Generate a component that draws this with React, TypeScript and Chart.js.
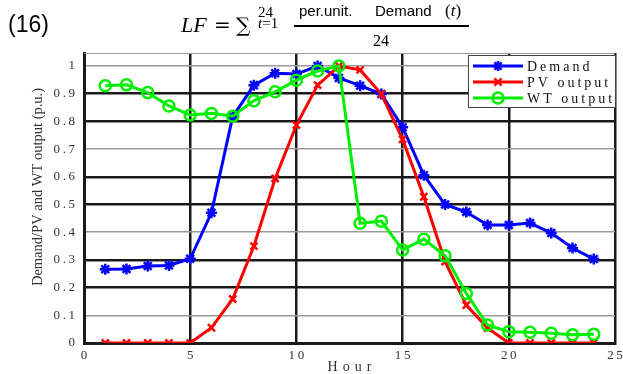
import React, { useEffect, useRef } from "react";
import { Chart, registerables } from "chart.js";

Chart.register(...registerables);

const hours = [1, 2, 3, 4, 5, 6, 7, 8, 9, 10, 11, 12, 13, 14, 15, 16, 17, 18, 19, 20, 21, 22, 23, 24];
const demand = [0.266, 0.267, 0.278, 0.28, 0.304, 0.47, 0.817, 0.931, 0.974, 0.971, 1.0, 0.957, 0.929, 0.899, 0.779, 0.606, 0.5, 0.473, 0.426, 0.426, 0.433, 0.397, 0.343, 0.303];
const pvOutput = [0, 0, 0, 0, 0, 0.055, 0.159, 0.35, 0.594, 0.787, 0.931, 1.0, 0.986, 0.899, 0.735, 0.528, 0.294, 0.137, 0.054, 0, 0, 0, 0, 0];
const wtOutput = [0.929, 0.932, 0.904, 0.856, 0.823, 0.829, 0.819, 0.875, 0.907, 0.949, 0.982, 1.0, 0.432, 0.44, 0.336, 0.375, 0.315, 0.179, 0.065, 0.041, 0.039, 0.035, 0.03, 0.032];

const xTicks = [0, 5, 10, 15, 20, 25];
const yTicks = [0, 0.1, 0.2, 0.3, 0.4, 0.5, 0.6, 0.7, 0.8, 0.9, 1];
const seriesNames = ["Demand", "PV output", "WT output"];
const xTitle = "Hour";
const yTitle = "Demand/PV and WT output (p.u.)";

const BLUE = "#0000ff";
const RED = "#ff0000";
const GREEN = "#00ee00";
const SERIF = '"Liberation Serif", "Times New Roman", serif';
const MATH = '"DejaVu Serif", serif';

const spaced = (s: string) => s.split("").join("\u2009");
const fmtY = (v: number) => (v === 0 ? "0" : v === 1 ? "1" : "0" + "." + String(Math.round(v * 10)));

function drawMarker(ctx: CanvasRenderingContext2D, kind: string, x: number, y: number, color: string) {
  ctx.save();
  ctx.strokeStyle = color;
  ctx.lineWidth = 2.5;
  ctx.beginPath();
  const r = 5;
  if (kind === "star") {
    ctx.moveTo(x - r, y); ctx.lineTo(x + r, y);
    ctx.moveTo(x, y - r); ctx.lineTo(x, y + r);
    const d = r * 0.707;
    ctx.moveTo(x - d, y - d); ctx.lineTo(x + d, y + d);
    ctx.moveTo(x - d, y + d); ctx.lineTo(x + d, y - d);
  } else if (kind === "crossRot") {
    const d = r * 0.707;
    ctx.moveTo(x - d, y - d); ctx.lineTo(x + d, y + d);
    ctx.moveTo(x - d, y + d); ctx.lineTo(x + d, y - d);
  } else {
    ctx.arc(x, y, 5.5, 0, Math.PI * 2);
  }
  ctx.stroke();
  ctx.restore();
}

const decorPlugin = {
  id: "decor",
  afterDraw(chart: any) {
    const { ctx, chartArea } = chart;
    ctx.save();
    // top border
    ctx.strokeStyle = "#9a9a9a";
    ctx.lineWidth = 1;
    ctx.beginPath();
    ctx.moveTo(chartArea.left, chartArea.top + 0.5);
    ctx.lineTo(chartArea.right, chartArea.top + 0.5);
    ctx.stroke();

    // y title
    ctx.save();
    ctx.translate(38, 187);
    ctx.rotate(-Math.PI / 2);
    ctx.font = "14.5px " + SERIF;
    ctx.fillStyle = "#333";
    ctx.textAlign = "center";
    ctx.textBaseline = "middle";
    ctx.fillText(yTitle, 0, 0);
    ctx.restore();

    // x title
    ctx.save();
    ctx.font = "14px " + SERIF;
    ctx.fillStyle = "#333";
    (ctx as any).letterSpacing = "5px";
    ctx.textAlign = "left";
    ctx.textBaseline = "middle";
    const w = ctx.measureText(xTitle).width - 5;
    ctx.fillText(xTitle, (chartArea.left + chartArea.right) / 2 - w / 2, 367);
    ctx.restore();

    // legend
    const bx = 468, by = 55, bw = 147, bh = 52;
    ctx.fillStyle = "#ffffff";
    ctx.fillRect(bx, by, bw, bh);
    ctx.strokeStyle = "#444";
    ctx.lineWidth = 1;
    ctx.strokeRect(bx + 0.5, by + 0.5, bw, bh);
    const items = [
      { name: seriesNames[0], color: BLUE, kind: "star" },
      { name: seriesNames[1], color: RED, kind: "crossRot" },
      { name: seriesNames[2], color: GREEN, kind: "circle" },
    ];
    items.forEach((it, i) => {
      const y = 66 + i * 16;
      ctx.strokeStyle = it.color;
      ctx.lineWidth = 3;
      ctx.beginPath();
      ctx.moveTo(473, y);
      ctx.lineTo(523, y);
      ctx.stroke();
      drawMarker(ctx, it.kind, 498, y, it.color);
      ctx.save();
      ctx.font = "14px " + SERIF;
      (ctx as any).letterSpacing = "3px";
      ctx.fillStyle = "#111";
      ctx.textAlign = "left";
      ctx.textBaseline = "middle";
      ctx.fillText(it.name, 527, y + 1);
      ctx.restore();
    });
    ctx.restore();
  },
};

function ChartCanvas() {
  const ref = useRef<HTMLCanvasElement | null>(null);
  useEffect(() => {
    if (!ref.current) return;
    const pts = (arr: number[]) => hours.map((h, i) => ({ x: h, y: arr[i] }));
    const chart = new Chart(ref.current, {
      type: "line",
      data: {
        datasets: [
          {
            label: seriesNames[0],
            data: pts(demand),
            borderColor: BLUE,
            backgroundColor: BLUE,
            borderWidth: 3,
            pointStyle: "star",
            pointRadius: 5.5,
            pointBorderWidth: 2.5,
            pointBorderColor: BLUE,
            pointBackgroundColor: BLUE,
            order: 3,
            tension: 0,
          },
          {
            label: seriesNames[1],
            data: pts(pvOutput),
            borderColor: RED,
            backgroundColor: RED,
            borderWidth: 3,
            pointStyle: "crossRot",
            pointRadius: 5,
            pointBorderWidth: 2.5,
            pointBorderColor: RED,
            order: 2,
            tension: 0,
          },
          {
            label: seriesNames[2],
            data: pts(wtOutput),
            borderColor: GREEN,
            backgroundColor: "rgba(0,0,0,0)",
            borderWidth: 3,
            pointStyle: "circle",
            pointRadius: 5.5,
            pointBorderWidth: 2.5,
            pointBorderColor: GREEN,
            pointBackgroundColor: "rgba(0,0,0,0)",
            order: 1,
            tension: 0,
          },
        ],
      },
      options: {
        animation: false,
        responsive: false,
        maintainAspectRatio: false,
        layout: { padding: { top: 53, right: 4, left: 0, bottom: 0 } },
        plugins: { legend: { display: false }, tooltip: { enabled: false } },
        scales: {
          x: {
            type: "linear",
            min: 0,
            max: 25,
            afterBuildTicks: (s: any) => {
              s.ticks = xTicks.map((v) => ({ value: v }));
            },
            afterFit: (s: any) => {
              s.height = 31;
              s.paddingLeft = 0;
              s.paddingRight = 0;
            },
            ticks: {
              autoSkip: false,
              maxRotation: 0,
              padding: 5,
              color: "#333",
              font: { family: SERIF, size: 13 },
              callback: (v: any) => spaced(String(v)),
            },
            grid: { color: "#1a1a1a", lineWidth: 2.5, drawTicks: false },
            border: { color: "#1a1a1a", width: 3 },
          },
          y: {
            type: "linear",
            min: 0,
            max: 1.047,
            afterBuildTicks: (s: any) => {
              s.ticks = yTicks.map((v) => ({ value: v }));
            },
            afterFit: (s: any) => {
              s.width = 84;
              s.paddingTop = 0;
              s.paddingBottom = 0;
            },
            ticks: {
              autoSkip: false,
              padding: 9,
              color: "#333",
              font: { family: SERIF, size: 13 },
              callback: (v: any) => spaced(fmtY(Number(v))),
            },
            grid: {
              drawTicks: false,
              color: (c: any) => {
                const k = Math.round((c.tick ? c.tick.value : 0) * 10);
                return k === 1 || k === 4 || k === 7 || k === 10 ? "#9a9a9a" : "#1a1a1a";
              },
              lineWidth: (c: any) => {
                const k = Math.round((c.tick ? c.tick.value : 0) * 10);
                return k === 1 || k === 4 || k === 7 || k === 10 ? 1.5 : 2.5;
              },
            },
            border: { color: "#1a1a1a", width: 3 },
          },
        },
      },
      plugins: [decorPlugin],
    } as any);
    return () => chart.destroy();
  }, []);
  return <canvas ref={ref} width={623} height={374} style={{ position: "absolute", left: 0, top: 0, width: 623, height: 374 }} />;
}

export default function App() {
  const sans = '"Liberation Sans", Arial, sans-serif';
  const abs = (left: number, top: number, extra: React.CSSProperties = {}): React.CSSProperties => ({
    position: "absolute",
    left,
    top,
    lineHeight: 1,
    whiteSpace: "nowrap",
    color: "#000",
    ...extra,
  });
  return (
    <div style={{ position: "fixed", left: 0, top: 0, width: 623, height: 374, background: "#fff", overflow: "hidden" }}>
      <ChartCanvas />
      <span style={abs(8, 13, { fontFamily: sans, fontSize: 23 })}>(16)</span>
      <span style={abs(181, 14, { fontFamily: SERIF, fontSize: 22, fontStyle: "italic" })}>LF</span>
      <span style={abs(214, 15, { fontFamily: MATH, fontSize: 20 })}>=</span>
      <span style={abs(236, 15, { fontFamily: MATH, fontSize: 20 })}>∑</span>
      <span style={abs(258, 5, { fontFamily: SERIF, fontSize: 15 })}>24</span>
      <span style={abs(258, 16, { fontFamily: SERIF, fontSize: 15 })}>
        <i>t</i>=1
      </span>
      <span style={abs(299, 3, { fontFamily: sans, fontSize: 15 })}>per.unit.</span>
      <span style={abs(375, 3, { fontFamily: sans, fontSize: 15 })}>Demand</span>
      <span style={abs(445, 2, { fontFamily: SERIF, fontSize: 17 })}>
        (<i>t</i>)
      </span>
      <div style={{ position: "absolute", left: 294, top: 25, width: 175, height: 1.5, background: "#000" }} />
      <span style={abs(373, 33, { fontFamily: SERIF, fontSize: 16 })}>24</span>
    </div>
  );
}
